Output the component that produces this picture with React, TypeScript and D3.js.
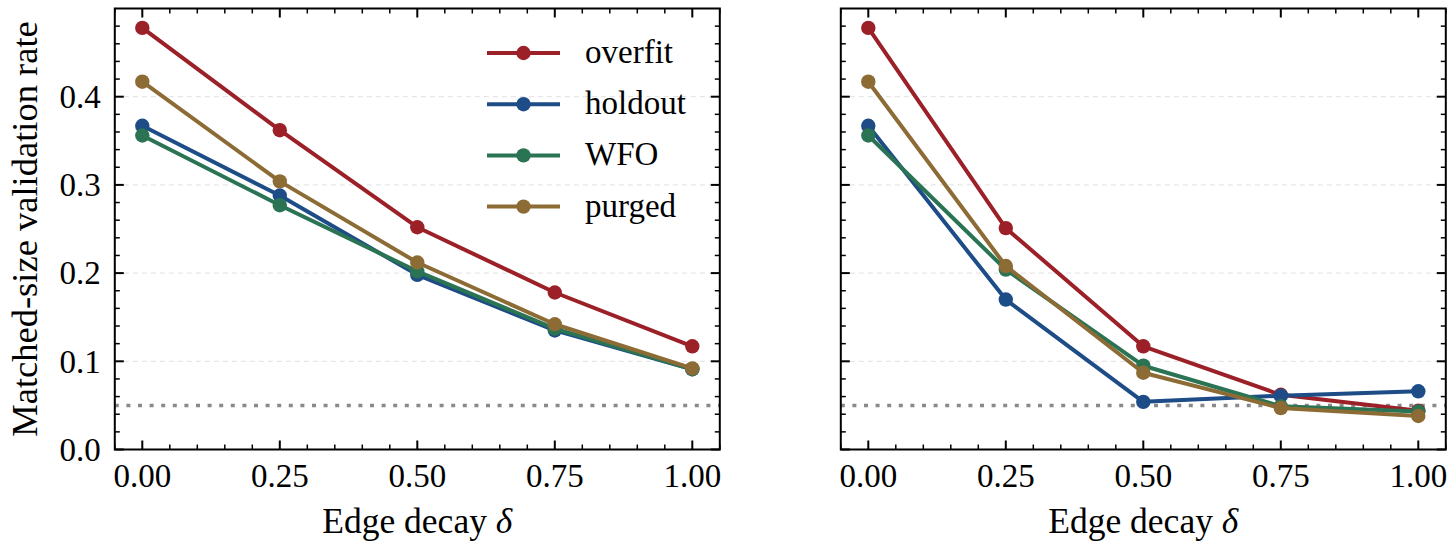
import { useEffect, useRef } from 'react';
import * as d3 from 'd3';

// Edge decay values (x)
const deltas = [0, 0.25, 0.5, 0.75, 1.0];

const seriesNames = ['overfit', 'holdout', 'WFO', 'purged'];
const seriesColors = ['#9b2027', '#1d4c86', '#2a7454', '#8d6b35'];

// left panel
const leftOverfit = [0.478, 0.362, 0.252, 0.178, 0.117];
const leftHoldout = [0.367, 0.288, 0.198, 0.135, 0.091];
const leftWFO = [0.356, 0.277, 0.202, 0.137, 0.091];
const leftPurged = [0.417, 0.304, 0.212, 0.142, 0.092];

// right panel
const rightOverfit = [0.478, 0.251, 0.117, 0.062, 0.044];
const rightHoldout = [0.367, 0.17, 0.054, 0.061, 0.066];
const rightWFO = [0.356, 0.204, 0.095, 0.049, 0.043];
const rightPurged = [0.417, 0.208, 0.087, 0.047, 0.038];

const xTicks = [0, 0.25, 0.5, 0.75, 1.0];
const yTicks = [0, 0.1, 0.2, 0.3, 0.4];
const refLevel = 0.05;

const FONT = 'Liberation Serif';
const W = 1456;
const H = 557;
const top = 8.5;
const bottom = 449.5;

function drawPanel(
  svg: d3.Selection<SVGSVGElement, unknown, null, undefined>,
  x0: number,
  x1: number,
  series: number[][],
  showYLabels: boolean,
  showLegend: boolean
) {
  const g = svg.append('g');
  const x = d3.scaleLinear().domain([-0.05, 1.05]).range([x0, x1]);
  const y = d3.scaleLinear().domain([0, 0.5]).range([bottom, top]);
  const line = d3
    .line<number>()
    .x((_, i) => x(deltas[i]))
    .y((d) => y(d));

  const xMinor = d3.range(-0.05, 1.0501, 0.05).filter((v) => !xTicks.some((t) => Math.abs(t - v) < 1e-6));
  const yMinor = d3.range(0.02, 0.5, 0.02).filter((v) => !yTicks.some((t) => Math.abs(t - v) < 1e-6));
  const major = 9;
  const minor = 5;

  // grid
  yTicks.slice(1).forEach((t) => {
    g.append('line')
      .attr('x1', x0).attr('x2', x1).attr('y1', y(t)).attr('y2', y(t))
      .attr('stroke', '#e6e6e6').attr('stroke-width', 1.2).attr('stroke-dasharray', '5 4');
  });

  // 0.05 reference
  g.append('line')
    .attr('x1', x0).attr('x2', x1).attr('y1', y(refLevel)).attr('y2', y(refLevel))
    .attr('stroke', '#8a8a8a').attr('stroke-width', 3.5).attr('stroke-dasharray', '4 7.6');

  series.forEach((vals, si) => {
    g.append('path')
      .attr('d', line(vals) || '')
      .attr('fill', 'none')
      .attr('stroke', seriesColors[si])
      .attr('stroke-width', 4)
      .attr('stroke-linejoin', 'round');
    g.selectAll(null)
      .data(vals)
      .join('circle')
      .attr('cx', (_, i) => x(deltas[i]))
      .attr('cy', (d) => y(d))
      .attr('r', 7.2)
      .attr('fill', seriesColors[si]);
  });

  const tick = (ax1: number, ay1: number, ax2: number, ay2: number, w: number) =>
    g.append('line').attr('x1', ax1).attr('y1', ay1).attr('x2', ax2).attr('y2', ay2)
      .attr('stroke', '#000').attr('stroke-width', w);

  xTicks.forEach((t) => {
    tick(x(t), bottom, x(t), bottom - major, 2);
    tick(x(t), top, x(t), top + major, 2);
    g.append('text')
      .attr('x', x(t)).attr('y', 487)
      .attr('text-anchor', 'middle')
      .attr('font-family', FONT).attr('font-size', 33)
      .text(t.toFixed(2));
  });
  xMinor.forEach((t) => {
    tick(x(t), bottom, x(t), bottom - minor, 1.5);
    tick(x(t), top, x(t), top + minor, 1.5);
  });
  yTicks.forEach((t) => {
    tick(x0, y(t), x0 + major, y(t), 2);
    tick(x1, y(t), x1 - major, y(t), 2);
    if (showYLabels) {
      g.append('text')
        .attr('x', x0 - 14).attr('y', y(t)).attr('dy', '0.34em')
        .attr('text-anchor', 'end')
        .attr('font-family', FONT).attr('font-size', 33)
        .text(t.toFixed(1));
    }
  });
  yMinor.forEach((t) => {
    tick(x0, y(t), x0 + minor, y(t), 1.5);
    tick(x1, y(t), x1 - minor, y(t), 1.5);
  });

  g.append('rect')
    .attr('x', x0).attr('y', top).attr('width', x1 - x0).attr('height', bottom - top)
    .attr('fill', 'none').attr('stroke', '#000').attr('stroke-width', 2);

  const xl = g.append('text')
    .attr('x', (x0 + x1) / 2).attr('y', 533)
    .attr('text-anchor', 'middle')
    .attr('font-family', FONT).attr('font-size', 35.5);
  xl.append('tspan').text('Edge decay ');
  xl.append('tspan').attr('font-style', 'italic').text('δ');

  if (showLegend) {
    seriesNames.forEach((name, i) => {
      const cy = 53 + i * 51.2;
      g.append('line').attr('x1', 487).attr('x2', 560).attr('y1', cy).attr('y2', cy)
        .attr('stroke', seriesColors[i]).attr('stroke-width', 4);
      g.append('circle').attr('cx', 523.5).attr('cy', cy).attr('r', 7.2).attr('fill', seriesColors[i]);
      g.append('text')
        .attr('x', 585).attr('y', cy).attr('dy', '0.3em')
        .attr('font-family', FONT).attr('font-size', 33)
        .text(name);
    });
  }
}

export default function App() {
  const svgRef = useRef<SVGSVGElement>(null);

  useEffect(() => {
    document.body.style.margin = '0';
    if (!svgRef.current) return;
    const svg = d3.select(svgRef.current);
    svg.selectAll('*').remove();

    svg.append('text')
      .attr('transform', `translate(37, ${(top + bottom) / 2}) rotate(-90)`)
      .attr('text-anchor', 'middle')
      .attr('font-family', FONT)
      .attr('font-size', 36.5)
      .text('Matched-size validation rate');

    drawPanel(svg, 114.8, 719.8, [leftOverfit, leftHoldout, leftWFO, leftPurged], true, true);
    drawPanel(svg, 840.8, 1445.8, [rightOverfit, rightHoldout, rightWFO, rightPurged], false, false);
  }, []);

  return <svg ref={svgRef} width={W} height={H} style={{ display: 'block', background: '#fff' }} />;
}
